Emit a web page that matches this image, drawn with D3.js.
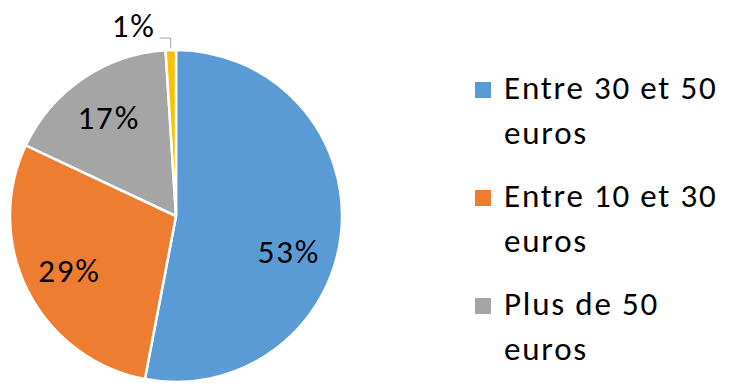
<!DOCTYPE html>
<html>
<head>
<meta charset="utf-8">
<script src="https://cdn.jsdelivr.net/npm/d3@7"></script>
<style>
  body { margin: 0; background: #fff; }
  text { font-family: Carlito, Lato, sans-serif; }
</style>
</head>
<body>
<div class="canvas"></div>
<script>
// data
const categories = ['Entre 30 et 50 euros', 'Entre 10 et 30 euros', 'Plus de 50 euros', 'Autre'];
const legendLines = [['Entre 30 et 50', 'euros'], ['Entre 10 et 30', 'euros'], ['Plus de 50', 'euros']];
const values = [53, 29, 17, 1];
const colors = ['#5B9BD5', '#ED7D31', '#A5A5A5', '#FFC000'];

const width = 731, height = 389;
const cx = 176, cy = 216, radius = 166;
const fontSize = 33;
const spacing = 1.8;

const svg = d3.select('.canvas').append('svg').attr('width', width).attr('height', height);

const pie = d3.pie().sort(null).value(d => d);
const arcs = pie(values);
const arc = d3.arc().innerRadius(0).outerRadius(radius);
const labelArc = d3.arc().innerRadius(radius * 0.72).outerRadius(radius * 0.72);

const group = svg.append('g').attr('transform', `translate(${cx}, ${cy})`);

group.selectAll('path')
  .data(arcs)
  .enter()
  .append('path')
  .attr('d', arc)
  .attr('fill', (d, i) => colors[i])
  .attr('stroke', '#fff')
  .attr('stroke-width', 2.5)
  .attr('stroke-linejoin', 'round');

// inside labels (Excel nudges the big one down a bit)
const nudge = [[-6, 24], [0, 0], [0, 0]];
group.selectAll('text.inner')
  .data(arcs.slice(0, 3))
  .enter()
  .append('text')
  .attr('class', 'inner')
  .attr('x', (d, i) => labelArc.centroid(d)[0] + nudge[i][0])
  .attr('y', (d, i) => labelArc.centroid(d)[1] + nudge[i][1])
  .attr('text-anchor', 'middle')
  .attr('dy', '0.35em')
  .attr('font-size', fontSize)
  .attr('letter-spacing', spacing)
  .attr('fill', '#000')
  .text(d => d.value + '%');

// small slice: outside label with leader line
const small = arcs[3];
const edge = d3.arc().innerRadius(radius + 2).outerRadius(radius + 2).centroid(small);
const elbowY = -radius - 12;
group.append('polyline')
  .attr('points', [[edge[0], edge[1]], [edge[0], elbowY], [edge[0] - 11, elbowY]].map(p => p.join(',')).join(' '))
  .attr('fill', 'none')
  .attr('stroke', '#A6A6A6')
  .attr('stroke-width', 1);
group.append('text')
  .attr('x', edge[0] - 15)
  .attr('y', elbowY - 1)
  .attr('text-anchor', 'end')
  .attr('font-size', fontSize)
  .attr('letter-spacing', spacing)
  .attr('fill', '#000')
  .text(small.value + '%');

// legend
const legend = svg.append('g').attr('transform', 'translate(475, 0)');
const legendY = d3.scalePoint().domain(d3.range(legendLines.length)).range([99, 315]);

const item = legend.selectAll('g')
  .data(legendLines)
  .enter()
  .append('g')
  .attr('transform', (d, i) => `translate(0, ${legendY(i)})`);

item.append('rect')
  .attr('x', 0)
  .attr('y', -17)
  .attr('width', 16)
  .attr('height', 16)
  .attr('fill', (d, i) => colors[i]);

item.selectAll('text')
  .data(d => d)
  .enter()
  .append('text')
  .attr('x', 29)
  .attr('y', (d, j) => j * 44.5)
  .attr('font-size', fontSize)
  .attr('letter-spacing', spacing)
  .attr('fill', '#000')
  .text(d => d);
</script>
</body>
</html>
